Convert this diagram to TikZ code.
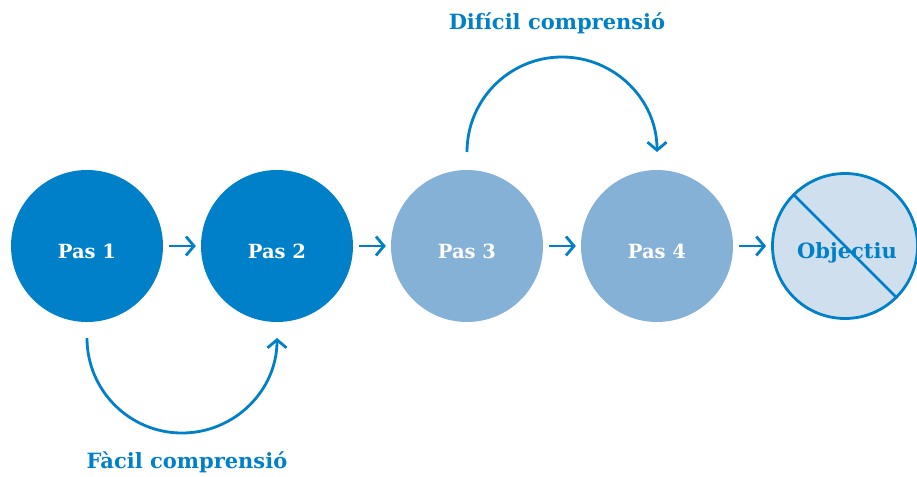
\documentclass[tikz,border=0pt]{standalone}
\usepackage{fontspec}
\setmainfont{DejaVu Serif}
\usetikzlibrary{arrows.meta}
\definecolor{dblue}{HTML}{0080C8}
\definecolor{mblue}{HTML}{86B1D7}
\definecolor{lblue}{HTML}{D0DFEE}
\begin{document}
\begin{tikzpicture}[x=1pt,y=-1pt,
  stepcirc/.style={circle,minimum size=152pt,inner sep=0pt,text=white,font=\fontsize{19.5}{22}\selectfont\bfseries},
  link/.style={draw=dblue,line width=2.8pt,-{Straight Barb[length=8pt,width=19pt,line width=2.8pt]}},
  lbl/.style={text=dblue,font=\fontsize{21}{24}\selectfont\bfseries}]
\path[use as bounding box] (0,0) rectangle (917,476);
\node[stepcirc,fill=dblue] (p1) at (87,246) {};
\node[stepcirc,fill=dblue] (p2) at (277,246) {};
\node[stepcirc,fill=mblue] (p3) at (467,246) {};
\node[stepcirc,fill=mblue] (p4) at (657,246) {};
\node[stepcirc,fill=lblue,draw=dblue,line width=2.8pt,minimum size=145pt] (ob) at (845,246) {};
\draw[dblue,line width=2.8pt] (ob.135) -- (ob.-45);
\node[stepcirc,minimum size=0pt,anchor=base] at ([yshift=-12pt]p1.center) {Pas 1};
\node[stepcirc,minimum size=0pt,anchor=base] at ([yshift=-12pt]p2.center) {Pas 2};
\node[stepcirc,minimum size=0pt,anchor=base] at ([yshift=-12pt]p3.center) {Pas 3};
\node[stepcirc,minimum size=0pt,anchor=base] at ([yshift=-12pt]p4.center) {Pas 4};
\node[lbl,anchor=base] at ([xshift=2pt,yshift=-12pt]ob.center) {Objectiu};
\draw[link] ([xshift=6pt]p1.east) -- ([xshift=-5pt]p2.west);
\draw[link] ([xshift=6pt]p2.east) -- ([xshift=-5pt]p3.west);
\draw[link] ([xshift=6pt]p3.east) -- ([xshift=-5pt]p4.west);
\draw[link] ([xshift=6pt]p4.east) -- ([xshift=-5pt]ob.west);
\coordinate (a1) at (87,338);
\draw[link] (a1) arc[start angle=180,end angle=360,x radius=95,y radius=-95];
\coordinate (b1) at (467,152);
\draw[link] (b1) arc[start angle=180,end angle=0,x radius=95,y radius=-95];
\node[lbl] (t1) at (557,23) {Difícil comprensió};
\node[lbl] (t2) at (187,462) {Fàcil comprensió};
\end{tikzpicture}
\end{document}
